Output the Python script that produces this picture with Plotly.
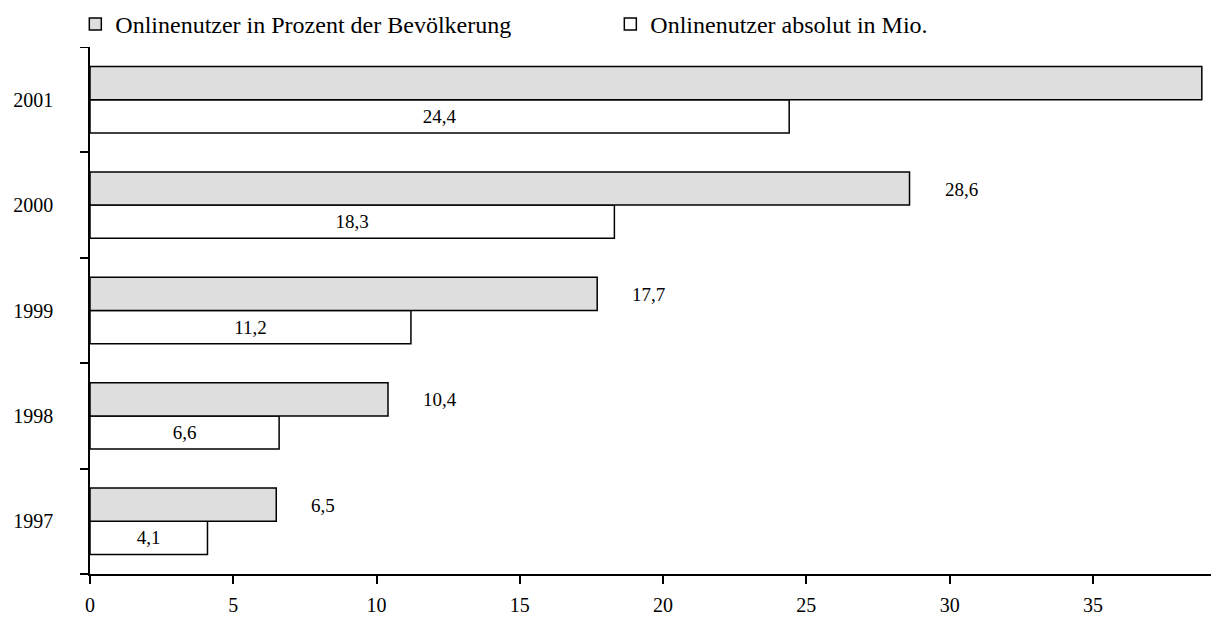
import plotly.graph_objects as go

years = ["1997", "1998", "1999", "2000", "2001"]
prozent = [6.5, 10.4, 17.7, 28.6, 38.8]
prozent_labels = ["6,5", "10,4", "17,7", "28,6", None]
absolut = [4.1, 6.6, 11.2, 18.3, 24.4]
absolut_labels = ["4,1", "6,6", "11,2", "18,3", "24,4"]
x_ticks = [0, 5, 10, 15, 20, 25, 30, 35]

FONT = "Liberation Serif"

fig = go.Figure()
fig.add_trace(go.Bar(
    y=years, x=absolut, orientation="h", name="Onlinenutzer absolut in Mio.",
    marker=dict(color="white", line=dict(color="black", width=1.5)),
    text=absolut_labels, textposition="inside", insidetextanchor="middle",
    textfont=dict(family=FONT, size=19, color="black"), constraintext="none",
    legendrank=2,
))
fig.add_trace(go.Bar(
    y=years, x=prozent, orientation="h", name="Onlinenutzer in Prozent der Bevölkerung",
    marker=dict(color="#dedede", line=dict(color="black", width=1.5)),
    legendrank=1,
))

for i, (v, lab) in enumerate(zip(prozent, prozent_labels)):
    if lab:
        fig.add_annotation(x=v, y=i, xref="x", yref="y", text=lab, showarrow=False,
                           xanchor="left", yanchor="middle", xshift=33, yshift=16,
                           font=dict(family=FONT, size=19, color="black"))

fig.update_layout(
    width=1219, height=621,
    margin=dict(l=82, r=8, t=39, b=55, autoexpand=False),
    paper_bgcolor="white", plot_bgcolor="white",
    barmode="group", bargap=0.37, bargroupgap=0,
    font=dict(family=FONT, size=20, color="black"),
    legend=dict(orientation="h", x=-0.013, xanchor="left", y=1.0, yanchor="bottom",
                font=dict(family=FONT, size=24, color="black"),
                entrywidth=490, entrywidthmode="pixels"),
    showlegend=True,
)
fig.update_xaxes(range=[0, 39.4], tickvals=x_ticks, ticktext=[str(t) for t in x_ticks],
                 showline=True, linecolor="black", linewidth=1.5,
                 ticks="outside", ticklen=8, tickcolor="black", tickwidth=1.5,
                 showgrid=False, zeroline=False, ticklabelstandoff=4,
                 tickfont=dict(family=FONT, size=20))
fig.update_yaxes(type="category", categoryorder="array", categoryarray=years,
                 range=[-0.5, 4.5], autorange=False,
                 showline=True, linecolor="black", linewidth=1.5,
                 ticks="outside", ticklen=8, tickcolor="black", tickwidth=1.5,
                 tickson="boundaries", showgrid=False, ticklabelstandoff=31,
                 tickfont=dict(family=FONT, size=20))

fig.write_html("out.html")
